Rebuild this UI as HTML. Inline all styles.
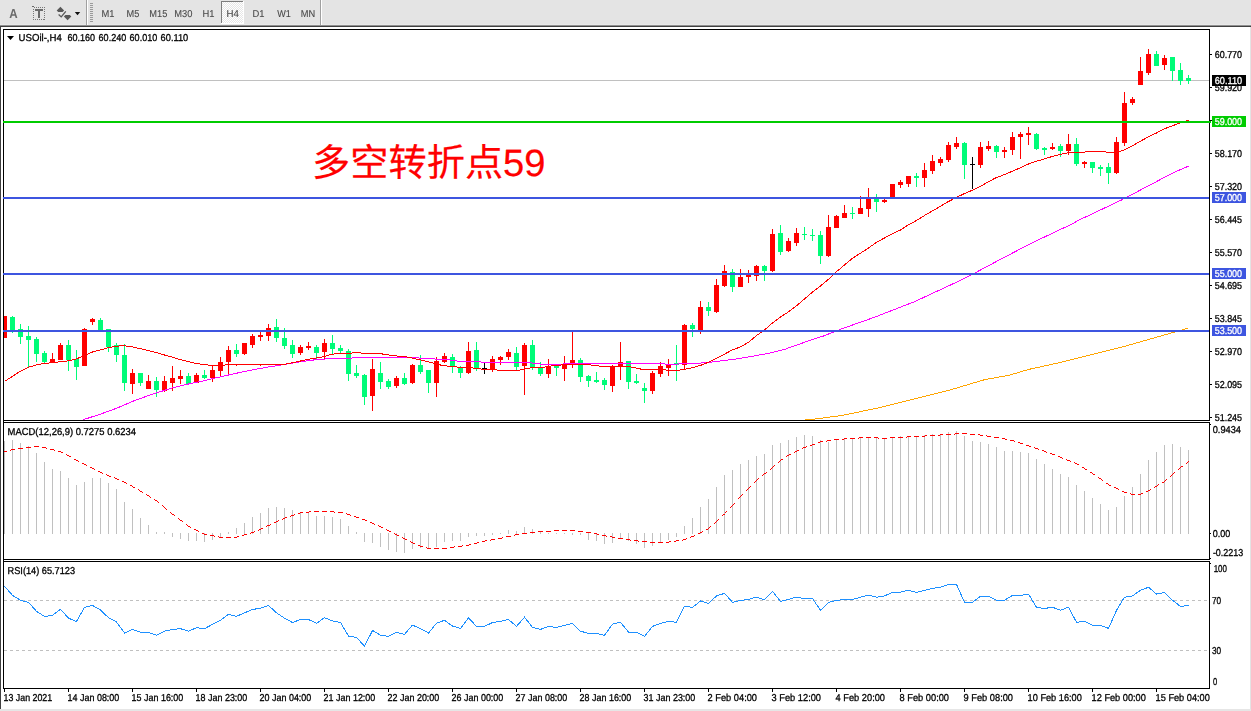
<!DOCTYPE html><html><head><meta charset="utf-8"><title>USOil H4</title>
<style>html,body{margin:0;padding:0;background:#fff;}body{width:1251px;height:711px;overflow:hidden;font-family:"Liberation Sans",sans-serif;}svg{display:block;font-family:"Liberation Sans",sans-serif;}text{filter:grayscale(1);text-rendering:geometricPrecision;}</style></head><body>
<svg width="1251" height="711" viewBox="0 0 1251 711" shape-rendering="crispEdges">
<rect x="0" y="0" width="1251" height="711" fill="#fff"/>
<rect x="0" y="0" width="1251" height="25" fill="#e4e4e4"/>
<rect x="0" y="24" width="1251" height="1" fill="#e9e9e9"/>
<rect x="0" y="25" width="1251" height="1" fill="#909090"/>
<rect x="0" y="26" width="1251" height="1" fill="#404040"/>
<rect x="0" y="27" width="1" height="684" fill="#404040"/>
<rect x="1250" y="27" width="1" height="684" fill="#e3e3e3"/>
<rect x="0" y="709" width="1251" height="2" fill="#e6e6e6"/>
<rect x="86" y="0" width="1" height="25" fill="#a0a0a0"/>
<rect x="87" y="0" width="1" height="25" fill="#ffffff"/>
<rect x="90" y="3" width="3" height="1" fill="#9a9a9a"/>
<rect x="90" y="5" width="3" height="1" fill="#9a9a9a"/>
<rect x="90" y="7" width="3" height="1" fill="#9a9a9a"/>
<rect x="90" y="9" width="3" height="1" fill="#9a9a9a"/>
<rect x="90" y="11" width="3" height="1" fill="#9a9a9a"/>
<rect x="90" y="13" width="3" height="1" fill="#9a9a9a"/>
<rect x="90" y="15" width="3" height="1" fill="#9a9a9a"/>
<rect x="90" y="17" width="3" height="1" fill="#9a9a9a"/>
<rect x="90" y="19" width="3" height="1" fill="#9a9a9a"/>
<rect x="90" y="21" width="3" height="1" fill="#9a9a9a"/>
<rect x="320" y="0" width="1" height="25" fill="#a0a0a0"/>
<rect x="321" y="0" width="1" height="25" fill="#ffffff"/>
<defs><pattern id="chk" x="0" y="0" width="2" height="2" patternUnits="userSpaceOnUse"><rect width="2" height="2" fill="#e6e6e6"/><rect width="1" height="1" fill="#fff"/><rect x="1" y="1" width="1" height="1" fill="#fff"/></pattern></defs>
<rect x="221" y="1" width="23" height="23" fill="url(#chk)"/>
<rect x="221" y="1" width="23" height="1" fill="#7d7d7d"/>
<rect x="221" y="1" width="1" height="23" fill="#7d7d7d"/>
<rect x="221" y="23" width="23" height="1" fill="#ffffff"/>
<rect x="243" y="1" width="1" height="23" fill="#ffffff"/>
<text x="101.4" y="17" fill="#484848" stroke="#484848" stroke-width="0.1" font-size="10.0" text-anchor="start" textLength="13.0" lengthAdjust="spacingAndGlyphs">M1</text>
<text x="126.6" y="17" fill="#484848" stroke="#484848" stroke-width="0.1" font-size="10.0" text-anchor="start" textLength="12.8" lengthAdjust="spacingAndGlyphs">M5</text>
<text x="149.3" y="17" fill="#484848" stroke="#484848" stroke-width="0.1" font-size="10.0" text-anchor="start" textLength="18.0" lengthAdjust="spacingAndGlyphs">M15</text>
<text x="174.3" y="17" fill="#484848" stroke="#484848" stroke-width="0.1" font-size="10.0" text-anchor="start" textLength="18.2" lengthAdjust="spacingAndGlyphs">M30</text>
<text x="202.5" y="17" fill="#484848" stroke="#484848" stroke-width="0.1" font-size="10.0" text-anchor="start" textLength="12.0" lengthAdjust="spacingAndGlyphs">H1</text>
<text x="226.5" y="17" fill="#484848" stroke="#484848" stroke-width="0.1" font-size="10.0" text-anchor="start" textLength="12.4" lengthAdjust="spacingAndGlyphs">H4</text>
<text x="252.5" y="17" fill="#484848" stroke="#484848" stroke-width="0.1" font-size="10.0" text-anchor="start" textLength="12.0" lengthAdjust="spacingAndGlyphs">D1</text>
<text x="277.2" y="17" fill="#484848" stroke="#484848" stroke-width="0.1" font-size="10.0" text-anchor="start" textLength="13.6" lengthAdjust="spacingAndGlyphs">W1</text>
<text x="300.8" y="17" fill="#484848" stroke="#484848" stroke-width="0.1" font-size="10.0" text-anchor="start" textLength="14.4" lengthAdjust="spacingAndGlyphs">MN</text>
<text x="9.3" y="18.2" fill="#6a6a6a" font-size="13" font-weight="bold" textLength="8.4" lengthAdjust="spacingAndGlyphs">A</text>
<rect x="33.5" y="7.5" width="11" height="12" fill="none" stroke="#777" stroke-width="1" stroke-dasharray="1,1"/>
<rect x="35" y="9" width="8" height="2" fill="#6a6a6a"/>
<rect x="38" y="9" width="2" height="9" fill="#6a6a6a"/>
<g shape-rendering="auto"><path d="M60.4 6.7 L64.1 10.5 L62.6 12 L58.2 12 L56.7 10.5 Z" fill="#585858"/><path d="M67.6 20.2 L71.3 16.5 L69.8 15 L65.4 15 L63.9 16.5 Z" fill="#585858"/><path d="M58.6 14.6 L61.2 16.9 L65.8 11.4" fill="none" stroke="#585858" stroke-width="1.3"/><path d="M74.8 12 L80.2 12 L77.5 15.2 Z" fill="#111"/></g>
<rect x="32" y="6" width="2" height="1" fill="#666"/>
<rect x="3" y="29" width="1207" height="1" fill="#000"/>
<rect x="3" y="29" width="1" height="660" fill="#000"/>
<rect x="1209" y="29" width="1" height="660" fill="#000"/>
<rect x="3" y="420" width="1206" height="1" fill="#000"/>
<rect x="3" y="422" width="1206" height="1" fill="#000"/>
<rect x="3" y="559" width="1206" height="1" fill="#000"/>
<rect x="3" y="561" width="1206" height="1" fill="#000"/>
<rect x="3" y="688" width="1207" height="1" fill="#000"/>
<rect x="4" y="80" width="1205" height="1" fill="#c0c0c0"/>
<rect x="4" y="316" width="1" height="22" fill="#ff0000"/>
<rect x="4" y="316" width="3" height="22" fill="#ff0000"/>
<rect x="12" y="316" width="1" height="17" fill="#00fc78"/>
<rect x="10" y="317" width="5" height="14" fill="#00fc78"/>
<rect x="20" y="324" width="1" height="20" fill="#00fc78"/>
<rect x="18" y="329" width="5" height="8" fill="#00fc78"/>
<rect x="28" y="326" width="1" height="42" fill="#00fc78"/>
<rect x="26" y="336" width="5" height="4" fill="#00fc78"/>
<rect x="36" y="337" width="1" height="25" fill="#00fc78"/>
<rect x="34" y="339" width="5" height="15" fill="#00fc78"/>
<rect x="44" y="351" width="1" height="12" fill="#00fc78"/>
<rect x="42" y="353" width="5" height="9" fill="#00fc78"/>
<rect x="52" y="353" width="1" height="9" fill="#ff0000"/>
<rect x="50" y="359" width="5" height="3" fill="#ff0000"/>
<rect x="60" y="343" width="1" height="17" fill="#ff0000"/>
<rect x="58" y="345" width="5" height="15" fill="#ff0000"/>
<rect x="68" y="340" width="1" height="31" fill="#00fc78"/>
<rect x="66" y="345" width="5" height="15" fill="#00fc78"/>
<rect x="76" y="350" width="1" height="30" fill="#00fc78"/>
<rect x="74" y="359" width="5" height="8" fill="#00fc78"/>
<rect x="84" y="328" width="1" height="38" fill="#ff0000"/>
<rect x="82" y="329" width="5" height="37" fill="#ff0000"/>
<rect x="92" y="318" width="1" height="7" fill="#ff0000"/>
<rect x="90" y="319" width="5" height="3" fill="#ff0000"/>
<rect x="100" y="318" width="1" height="12" fill="#00fc78"/>
<rect x="98" y="320" width="5" height="10" fill="#00fc78"/>
<rect x="108" y="329" width="1" height="23" fill="#00fc78"/>
<rect x="106" y="329" width="5" height="18" fill="#00fc78"/>
<rect x="116" y="343" width="1" height="19" fill="#00fc78"/>
<rect x="114" y="345" width="5" height="10" fill="#00fc78"/>
<rect x="124" y="344" width="1" height="47" fill="#00fc78"/>
<rect x="122" y="355" width="5" height="28" fill="#00fc78"/>
<rect x="132" y="369" width="1" height="25" fill="#ff0000"/>
<rect x="130" y="373" width="5" height="11" fill="#ff0000"/>
<rect x="140" y="373" width="1" height="13" fill="#00fc78"/>
<rect x="138" y="373" width="5" height="10" fill="#00fc78"/>
<rect x="148" y="375" width="1" height="14" fill="#ff0000"/>
<rect x="146" y="381" width="5" height="8" fill="#ff0000"/>
<rect x="156" y="377" width="1" height="20" fill="#00fc78"/>
<rect x="154" y="381" width="5" height="9" fill="#00fc78"/>
<rect x="164" y="376" width="1" height="16" fill="#ff0000"/>
<rect x="162" y="381" width="5" height="10" fill="#ff0000"/>
<rect x="172" y="366" width="1" height="25" fill="#ff0000"/>
<rect x="170" y="378" width="5" height="5" fill="#ff0000"/>
<rect x="180" y="370" width="1" height="14" fill="#ff0000"/>
<rect x="178" y="376" width="5" height="3" fill="#ff0000"/>
<rect x="188" y="373" width="1" height="11" fill="#00fc78"/>
<rect x="186" y="376" width="5" height="8" fill="#00fc78"/>
<rect x="196" y="373" width="1" height="10" fill="#ff0000"/>
<rect x="194" y="375" width="5" height="8" fill="#ff0000"/>
<rect x="204" y="370" width="1" height="9" fill="#00fc78"/>
<rect x="202" y="375" width="5" height="3" fill="#00fc78"/>
<rect x="212" y="366" width="1" height="16" fill="#ff0000"/>
<rect x="210" y="370" width="5" height="8" fill="#ff0000"/>
<rect x="220" y="357" width="1" height="19" fill="#ff0000"/>
<rect x="218" y="362" width="5" height="9" fill="#ff0000"/>
<rect x="228" y="346" width="1" height="29" fill="#ff0000"/>
<rect x="226" y="350" width="5" height="12" fill="#ff0000"/>
<rect x="236" y="344" width="1" height="13" fill="#00fc78"/>
<rect x="234" y="350" width="5" height="4" fill="#00fc78"/>
<rect x="244" y="343" width="1" height="12" fill="#ff0000"/>
<rect x="242" y="343" width="5" height="11" fill="#ff0000"/>
<rect x="252" y="334" width="1" height="14" fill="#ff0000"/>
<rect x="250" y="336" width="5" height="9" fill="#ff0000"/>
<rect x="260" y="332" width="1" height="9" fill="#ff0000"/>
<rect x="258" y="335" width="5" height="2" fill="#ff0000"/>
<rect x="268" y="324" width="1" height="17" fill="#ff0000"/>
<rect x="266" y="328" width="5" height="8" fill="#ff0000"/>
<rect x="276" y="319" width="1" height="23" fill="#00fc78"/>
<rect x="274" y="327" width="5" height="11" fill="#00fc78"/>
<rect x="284" y="328" width="1" height="21" fill="#00fc78"/>
<rect x="282" y="338" width="5" height="8" fill="#00fc78"/>
<rect x="292" y="340" width="1" height="18" fill="#00fc78"/>
<rect x="290" y="345" width="5" height="9" fill="#00fc78"/>
<rect x="300" y="345" width="1" height="10" fill="#ff0000"/>
<rect x="298" y="347" width="5" height="6" fill="#ff0000"/>
<rect x="308" y="342" width="1" height="8" fill="#ff0000"/>
<rect x="306" y="346" width="5" height="2" fill="#ff0000"/>
<rect x="316" y="345" width="1" height="15" fill="#00fc78"/>
<rect x="314" y="347" width="5" height="6" fill="#00fc78"/>
<rect x="324" y="339" width="1" height="20" fill="#ff0000"/>
<rect x="322" y="343" width="5" height="9" fill="#ff0000"/>
<rect x="332" y="335" width="1" height="19" fill="#00fc78"/>
<rect x="330" y="343" width="5" height="6" fill="#00fc78"/>
<rect x="340" y="345" width="1" height="8" fill="#00fc78"/>
<rect x="338" y="348" width="5" height="3" fill="#00fc78"/>
<rect x="348" y="349" width="1" height="32" fill="#00fc78"/>
<rect x="346" y="351" width="5" height="23" fill="#00fc78"/>
<rect x="356" y="365" width="1" height="13" fill="#00fc78"/>
<rect x="354" y="373" width="5" height="3" fill="#00fc78"/>
<rect x="364" y="374" width="1" height="31" fill="#00fc78"/>
<rect x="362" y="375" width="5" height="22" fill="#00fc78"/>
<rect x="372" y="359" width="1" height="52" fill="#ff0000"/>
<rect x="370" y="369" width="5" height="27" fill="#ff0000"/>
<rect x="380" y="362" width="1" height="27" fill="#00fc78"/>
<rect x="378" y="373" width="5" height="9" fill="#00fc78"/>
<rect x="388" y="379" width="1" height="10" fill="#00fc78"/>
<rect x="386" y="381" width="5" height="6" fill="#00fc78"/>
<rect x="396" y="376" width="1" height="12" fill="#ff0000"/>
<rect x="394" y="378" width="5" height="8" fill="#ff0000"/>
<rect x="404" y="373" width="1" height="12" fill="#00fc78"/>
<rect x="402" y="378" width="5" height="6" fill="#00fc78"/>
<rect x="412" y="364" width="1" height="20" fill="#ff0000"/>
<rect x="410" y="365" width="5" height="18" fill="#ff0000"/>
<rect x="420" y="355" width="1" height="19" fill="#00fc78"/>
<rect x="418" y="365" width="5" height="7" fill="#00fc78"/>
<rect x="428" y="370" width="1" height="23" fill="#00fc78"/>
<rect x="426" y="370" width="5" height="13" fill="#00fc78"/>
<rect x="436" y="357" width="1" height="40" fill="#ff0000"/>
<rect x="434" y="361" width="5" height="22" fill="#ff0000"/>
<rect x="444" y="353" width="1" height="10" fill="#ff0000"/>
<rect x="442" y="356" width="5" height="6" fill="#ff0000"/>
<rect x="452" y="354" width="1" height="19" fill="#00fc78"/>
<rect x="450" y="357" width="5" height="10" fill="#00fc78"/>
<rect x="460" y="366" width="1" height="12" fill="#00fc78"/>
<rect x="458" y="368" width="5" height="5" fill="#00fc78"/>
<rect x="468" y="342" width="1" height="32" fill="#ff0000"/>
<rect x="466" y="351" width="5" height="22" fill="#ff0000"/>
<rect x="476" y="342" width="1" height="29" fill="#00fc78"/>
<rect x="474" y="350" width="5" height="18" fill="#00fc78"/>
<rect x="484" y="363" width="1" height="11" fill="#000"/>
<rect x="482" y="368" width="5" height="1" fill="#000"/>
<rect x="492" y="356" width="1" height="16" fill="#ff0000"/>
<rect x="490" y="359" width="5" height="11" fill="#ff0000"/>
<rect x="500" y="356" width="1" height="9" fill="#ff0000"/>
<rect x="498" y="357" width="5" height="3" fill="#ff0000"/>
<rect x="508" y="349" width="1" height="11" fill="#ff0000"/>
<rect x="506" y="352" width="5" height="5" fill="#ff0000"/>
<rect x="516" y="347" width="1" height="23" fill="#00fc78"/>
<rect x="514" y="353" width="5" height="14" fill="#00fc78"/>
<rect x="524" y="343" width="1" height="52" fill="#ff0000"/>
<rect x="522" y="345" width="5" height="21" fill="#ff0000"/>
<rect x="532" y="340" width="1" height="30" fill="#00fc78"/>
<rect x="530" y="345" width="5" height="22" fill="#00fc78"/>
<rect x="540" y="362" width="1" height="14" fill="#00fc78"/>
<rect x="538" y="367" width="5" height="7" fill="#00fc78"/>
<rect x="548" y="359" width="1" height="19" fill="#ff0000"/>
<rect x="546" y="366" width="5" height="8" fill="#ff0000"/>
<rect x="556" y="365" width="1" height="11" fill="#00fc78"/>
<rect x="554" y="366" width="5" height="2" fill="#00fc78"/>
<rect x="564" y="356" width="1" height="25" fill="#ff0000"/>
<rect x="562" y="365" width="5" height="4" fill="#ff0000"/>
<rect x="572" y="332" width="1" height="36" fill="#ff0000"/>
<rect x="570" y="360" width="5" height="4" fill="#ff0000"/>
<rect x="580" y="358" width="1" height="24" fill="#00fc78"/>
<rect x="578" y="360" width="5" height="17" fill="#00fc78"/>
<rect x="588" y="375" width="1" height="12" fill="#00fc78"/>
<rect x="586" y="376" width="5" height="5" fill="#00fc78"/>
<rect x="596" y="372" width="1" height="11" fill="#00fc78"/>
<rect x="594" y="380" width="5" height="2" fill="#00fc78"/>
<rect x="604" y="378" width="1" height="12" fill="#00fc78"/>
<rect x="602" y="380" width="5" height="5" fill="#00fc78"/>
<rect x="612" y="365" width="1" height="27" fill="#ff0000"/>
<rect x="610" y="366" width="5" height="20" fill="#ff0000"/>
<rect x="620" y="342" width="1" height="38" fill="#ff0000"/>
<rect x="618" y="362" width="5" height="4" fill="#ff0000"/>
<rect x="628" y="361" width="1" height="28" fill="#00fc78"/>
<rect x="626" y="361" width="5" height="21" fill="#00fc78"/>
<rect x="636" y="374" width="1" height="10" fill="#00fc78"/>
<rect x="634" y="381" width="5" height="2" fill="#00fc78"/>
<rect x="644" y="383" width="1" height="20" fill="#00fc78"/>
<rect x="642" y="388" width="5" height="3" fill="#00fc78"/>
<rect x="652" y="371" width="1" height="23" fill="#ff0000"/>
<rect x="650" y="373" width="5" height="18" fill="#ff0000"/>
<rect x="660" y="362" width="1" height="15" fill="#ff0000"/>
<rect x="658" y="366" width="5" height="8" fill="#ff0000"/>
<rect x="668" y="359" width="1" height="17" fill="#ff0000"/>
<rect x="666" y="364" width="5" height="4" fill="#ff0000"/>
<rect x="676" y="345" width="1" height="36" fill="#00fc78"/>
<rect x="674" y="363" width="5" height="2" fill="#00fc78"/>
<rect x="684" y="324" width="1" height="46" fill="#ff0000"/>
<rect x="682" y="325" width="5" height="40" fill="#ff0000"/>
<rect x="692" y="323" width="1" height="14" fill="#00fc78"/>
<rect x="690" y="325" width="5" height="4" fill="#00fc78"/>
<rect x="700" y="301" width="1" height="33" fill="#ff0000"/>
<rect x="698" y="307" width="5" height="24" fill="#ff0000"/>
<rect x="708" y="302" width="1" height="14" fill="#00fc78"/>
<rect x="706" y="307" width="5" height="4" fill="#00fc78"/>
<rect x="716" y="279" width="1" height="34" fill="#ff0000"/>
<rect x="714" y="285" width="5" height="27" fill="#ff0000"/>
<rect x="724" y="265" width="1" height="22" fill="#ff0000"/>
<rect x="722" y="271" width="5" height="15" fill="#ff0000"/>
<rect x="732" y="269" width="1" height="23" fill="#00fc78"/>
<rect x="730" y="272" width="5" height="15" fill="#00fc78"/>
<rect x="740" y="269" width="1" height="18" fill="#ff0000"/>
<rect x="738" y="277" width="5" height="10" fill="#ff0000"/>
<rect x="748" y="270" width="1" height="13" fill="#ff0000"/>
<rect x="746" y="275" width="5" height="2" fill="#ff0000"/>
<rect x="756" y="265" width="1" height="16" fill="#ff0000"/>
<rect x="754" y="266" width="5" height="10" fill="#ff0000"/>
<rect x="764" y="265" width="1" height="16" fill="#00fc78"/>
<rect x="762" y="266" width="5" height="5" fill="#00fc78"/>
<rect x="772" y="229" width="1" height="43" fill="#ff0000"/>
<rect x="770" y="234" width="5" height="37" fill="#ff0000"/>
<rect x="780" y="225" width="1" height="30" fill="#00fc78"/>
<rect x="778" y="233" width="5" height="19" fill="#00fc78"/>
<rect x="788" y="238" width="1" height="14" fill="#ff0000"/>
<rect x="786" y="241" width="5" height="10" fill="#ff0000"/>
<rect x="796" y="228" width="1" height="18" fill="#ff0000"/>
<rect x="794" y="233" width="5" height="10" fill="#ff0000"/>
<rect x="804" y="227" width="1" height="13" fill="#00fc78"/>
<rect x="802" y="234" width="5" height="1" fill="#00fc78"/>
<rect x="812" y="229" width="1" height="12" fill="#00fc78"/>
<rect x="810" y="235" width="5" height="1" fill="#00fc78"/>
<rect x="820" y="231" width="1" height="33" fill="#00fc78"/>
<rect x="818" y="235" width="5" height="21" fill="#00fc78"/>
<rect x="828" y="215" width="1" height="42" fill="#ff0000"/>
<rect x="826" y="227" width="5" height="29" fill="#ff0000"/>
<rect x="836" y="215" width="1" height="13" fill="#ff0000"/>
<rect x="834" y="216" width="5" height="12" fill="#ff0000"/>
<rect x="844" y="205" width="1" height="13" fill="#ff0000"/>
<rect x="842" y="213" width="5" height="5" fill="#ff0000"/>
<rect x="852" y="207" width="1" height="12" fill="#00fc78"/>
<rect x="850" y="213" width="5" height="1" fill="#00fc78"/>
<rect x="860" y="196" width="1" height="18" fill="#ff0000"/>
<rect x="858" y="208" width="5" height="6" fill="#ff0000"/>
<rect x="868" y="188" width="1" height="29" fill="#ff0000"/>
<rect x="866" y="199" width="5" height="10" fill="#ff0000"/>
<rect x="876" y="194" width="1" height="18" fill="#00fc78"/>
<rect x="874" y="198" width="5" height="4" fill="#00fc78"/>
<rect x="884" y="199" width="1" height="4" fill="#ff0000"/>
<rect x="882" y="200" width="5" height="2" fill="#ff0000"/>
<rect x="892" y="184" width="1" height="14" fill="#ff0000"/>
<rect x="890" y="184" width="5" height="14" fill="#ff0000"/>
<rect x="900" y="180" width="1" height="8" fill="#ff0000"/>
<rect x="898" y="182" width="5" height="3" fill="#ff0000"/>
<rect x="908" y="176" width="1" height="11" fill="#ff0000"/>
<rect x="906" y="176" width="5" height="8" fill="#ff0000"/>
<rect x="916" y="173" width="1" height="14" fill="#00fc78"/>
<rect x="914" y="176" width="5" height="2" fill="#00fc78"/>
<rect x="924" y="163" width="1" height="24" fill="#ff0000"/>
<rect x="922" y="170" width="5" height="8" fill="#ff0000"/>
<rect x="932" y="155" width="1" height="19" fill="#ff0000"/>
<rect x="930" y="161" width="5" height="10" fill="#ff0000"/>
<rect x="940" y="157" width="1" height="9" fill="#ff0000"/>
<rect x="938" y="159" width="5" height="4" fill="#ff0000"/>
<rect x="948" y="142" width="1" height="20" fill="#ff0000"/>
<rect x="946" y="145" width="5" height="15" fill="#ff0000"/>
<rect x="956" y="137" width="1" height="12" fill="#ff0000"/>
<rect x="954" y="143" width="5" height="4" fill="#ff0000"/>
<rect x="964" y="142" width="1" height="37" fill="#00fc78"/>
<rect x="962" y="143" width="5" height="22" fill="#00fc78"/>
<rect x="972" y="157" width="1" height="32" fill="#000"/>
<rect x="970" y="164" width="5" height="1" fill="#000"/>
<rect x="980" y="142" width="1" height="26" fill="#ff0000"/>
<rect x="978" y="147" width="5" height="18" fill="#ff0000"/>
<rect x="988" y="141" width="1" height="10" fill="#ff0000"/>
<rect x="986" y="146" width="5" height="3" fill="#ff0000"/>
<rect x="996" y="145" width="1" height="13" fill="#00fc78"/>
<rect x="994" y="146" width="5" height="6" fill="#00fc78"/>
<rect x="1004" y="147" width="1" height="11" fill="#ff0000"/>
<rect x="1002" y="150" width="5" height="2" fill="#ff0000"/>
<rect x="1012" y="132" width="1" height="23" fill="#ff0000"/>
<rect x="1010" y="137" width="5" height="13" fill="#ff0000"/>
<rect x="1020" y="132" width="1" height="27" fill="#ff0000"/>
<rect x="1018" y="134" width="5" height="3" fill="#ff0000"/>
<rect x="1028" y="127" width="1" height="18" fill="#ff0000"/>
<rect x="1026" y="133" width="5" height="2" fill="#ff0000"/>
<rect x="1036" y="133" width="1" height="17" fill="#00fc78"/>
<rect x="1034" y="134" width="5" height="15" fill="#00fc78"/>
<rect x="1044" y="147" width="1" height="8" fill="#00fc78"/>
<rect x="1042" y="148" width="5" height="2" fill="#00fc78"/>
<rect x="1052" y="143" width="1" height="7" fill="#ff0000"/>
<rect x="1050" y="147" width="5" height="2" fill="#ff0000"/>
<rect x="1060" y="144" width="1" height="13" fill="#00fc78"/>
<rect x="1058" y="146" width="5" height="5" fill="#00fc78"/>
<rect x="1068" y="134" width="1" height="21" fill="#ff0000"/>
<rect x="1066" y="144" width="5" height="7" fill="#ff0000"/>
<rect x="1076" y="138" width="1" height="28" fill="#00fc78"/>
<rect x="1074" y="144" width="5" height="20" fill="#00fc78"/>
<rect x="1084" y="161" width="1" height="7" fill="#ff0000"/>
<rect x="1082" y="162" width="5" height="2" fill="#ff0000"/>
<rect x="1092" y="162" width="1" height="11" fill="#00fc78"/>
<rect x="1090" y="162" width="5" height="6" fill="#00fc78"/>
<rect x="1100" y="165" width="1" height="11" fill="#00fc78"/>
<rect x="1098" y="167" width="5" height="2" fill="#00fc78"/>
<rect x="1108" y="163" width="1" height="21" fill="#00fc78"/>
<rect x="1106" y="167" width="5" height="6" fill="#00fc78"/>
<rect x="1116" y="137" width="1" height="37" fill="#ff0000"/>
<rect x="1114" y="142" width="5" height="31" fill="#ff0000"/>
<rect x="1124" y="92" width="1" height="54" fill="#ff0000"/>
<rect x="1122" y="103" width="5" height="40" fill="#ff0000"/>
<rect x="1132" y="97" width="1" height="8" fill="#ff0000"/>
<rect x="1130" y="99" width="5" height="4" fill="#ff0000"/>
<rect x="1140" y="57" width="1" height="28" fill="#ff0000"/>
<rect x="1138" y="71" width="5" height="14" fill="#ff0000"/>
<rect x="1148" y="49" width="1" height="26" fill="#ff0000"/>
<rect x="1146" y="54" width="5" height="19" fill="#ff0000"/>
<rect x="1156" y="51" width="1" height="15" fill="#00fc78"/>
<rect x="1154" y="54" width="5" height="12" fill="#00fc78"/>
<rect x="1164" y="55" width="1" height="15" fill="#ff0000"/>
<rect x="1162" y="58" width="5" height="7" fill="#ff0000"/>
<rect x="1172" y="57" width="1" height="24" fill="#00fc78"/>
<rect x="1170" y="57" width="5" height="14" fill="#00fc78"/>
<rect x="1180" y="63" width="1" height="22" fill="#00fc78"/>
<rect x="1178" y="70" width="5" height="11" fill="#00fc78"/>
<rect x="1188" y="75" width="1" height="9" fill="#00fc78"/>
<rect x="1186" y="78" width="5" height="3" fill="#00fc78"/>
<polyline points="805.5,420.0 809.0,419.7 840.9,415.7 877.8,408.0 914.7,398.9 951.6,389.5 985.2,379.5 1008.7,375.4 1028.8,369.4 1059.0,362.7 1092.6,354.3 1126.2,345.9 1153.0,338.2 1173.2,332.5 1188.3,328.1" fill="none" stroke="#ffa500" stroke-width="1"/>
<polyline points="83.5,420.0 84.5,419.3 100.5,414.1 116.5,408.3 132.5,401.4 148.5,395.5 156.5,392.9 172.5,387.8 188.5,384.0 204.5,380.6 220.5,376.8 236.5,373.2 252.5,369.9 268.5,367.0 284.5,364.5 300.5,361.8 316.5,359.6 328.5,358.8 335.5,358.5 351.5,358.4 352.5,357.5 416.5,357.5 420.5,358.2 436.5,359.1 452.5,360.2 456.5,360.6 457.5,361.5 480.5,361.6 481.5,362.5 530.5,362.8 540.5,364.1 610.5,363.8 664.5,363.8 666.5,364.6 690.5,363.4 704.5,362.9 720.5,360.9 736.5,358.9 752.5,356.3 768.5,353.3 784.5,349.4 800.5,343.7 810.5,340.2 824.1,335.8 840.9,329.1 874.4,317.3 890.5,311.0 914.7,301.6 951.6,284.5 973.5,273.7 998.6,260.3 1032.2,242.8 1059.0,230.1 1070.5,224.8 1079.2,220.0 1121.5,200.0 1128.5,196.3 1140.5,190.0 1156.5,181.6 1172.5,173.1 1188.5,166.1" fill="none" stroke="#ff00ff" stroke-width="1"/>
<polyline points="4.5,381.4 12.5,376.3 20.5,371.2 28.5,367.3 36.5,364.8 44.5,363.5 52.5,362.7 60.5,361.7 68.5,360.9 76.5,358.9 84.5,355.3 92.5,352.0 100.5,349.9 108.5,347.6 116.5,346.1 124.5,345.8 132.5,346.9 140.5,348.7 148.5,350.7 156.5,352.7 164.5,355.0 172.5,357.1 180.5,359.7 188.5,361.7 196.5,363.5 204.5,364.8 212.5,365.3 220.5,365.3 228.5,364.8 236.5,365.0 244.5,364.8 252.5,364.8 260.5,365.0 268.5,364.8 276.5,364.5 284.5,364.3 292.5,362.8 300.5,361.0 308.5,359.3 316.5,358.0 324.5,356.5 330.5,354.6 336.5,353.5 351.5,353.4 352.5,352.5 360.5,352.5 361.5,353.5 372.5,353.7 380.5,353.7 388.5,354.9 396.5,356.0 404.5,356.5 410.5,357.7 420.5,359.9 430.5,362.4 440.5,365.0 450.5,366.5 456.5,366.6 457.5,367.5 472.5,367.6 473.5,368.5 480.5,368.6 481.5,369.5 496.5,369.6 497.5,370.5 517.5,370.5 524.5,368.9 532.5,367.5 545.5,367.0 555.5,365.3 570.5,364.5 580.5,364.1 590.5,365.0 600.5,366.2 630.5,366.8 640.5,369.0 660.5,369.0 668.5,370.5 676.5,370.5 684.5,369.3 692.5,367.6 700.5,365.4 708.5,362.2 716.5,358.4 724.5,354.1 732.5,349.9 740.5,346.9 748.5,342.3 756.5,335.6 764.5,330.0 772.5,322.9 780.5,317.0 788.5,311.9 796.5,305.8 804.5,299.0 812.5,292.0 820.5,286.0 828.5,279.3 836.5,271.7 844.5,265.0 852.5,258.2 860.5,253.2 868.5,248.1 876.5,242.2 884.5,238.0 892.5,233.6 900.5,230.0 908.5,224.8 916.5,220.5 924.5,215.5 932.5,210.9 940.5,206.2 948.5,201.5 956.5,197.4 964.5,193.5 972.5,190.2 980.5,186.3 988.5,181.7 996.5,177.5 1004.5,174.6 1012.5,171.1 1020.5,167.7 1028.5,164.0 1036.5,161.2 1044.5,158.9 1052.5,156.4 1060.5,154.3 1068.5,152.6 1104.5,151.3 1106.5,152.5 1116.5,152.5 1122.5,150.6 1132.5,145.7 1140.5,141.1 1148.5,136.8 1156.5,133.0 1164.5,128.8 1172.5,125.7 1180.5,122.9 1188.5,120.4" fill="none" stroke="#ff0000" stroke-width="1"/>
<rect x="3" y="121" width="1208" height="2" fill="#00cc00"/>
<rect x="3" y="197" width="1206" height="2" fill="#3d55e0"/>
<rect x="3" y="273" width="1206" height="2" fill="#3d55e0"/>
<rect x="3" y="330" width="1206" height="2" fill="#3d55e0"/>
<rect x="1210" y="54" width="2" height="1" fill="#000"/>
<text x="1214.7" y="58" fill="#000" stroke="#000" stroke-width="0.3" font-size="10.0" text-anchor="start" textLength="27.4" lengthAdjust="spacingAndGlyphs">60.770</text>
<rect x="1210" y="87" width="2" height="1" fill="#000"/>
<text x="1214.7" y="91" fill="#000" stroke="#000" stroke-width="0.3" font-size="10.0" text-anchor="start" textLength="27.4" lengthAdjust="spacingAndGlyphs">59.920</text>
<rect x="1210" y="120" width="2" height="1" fill="#000"/>
<rect x="1210" y="153" width="2" height="1" fill="#000"/>
<text x="1214.7" y="157" fill="#000" stroke="#000" stroke-width="0.3" font-size="10.0" text-anchor="start" textLength="27.4" lengthAdjust="spacingAndGlyphs">58.170</text>
<rect x="1210" y="186" width="2" height="1" fill="#000"/>
<text x="1214.7" y="190" fill="#000" stroke="#000" stroke-width="0.3" font-size="10.0" text-anchor="start" textLength="27.4" lengthAdjust="spacingAndGlyphs">57.320</text>
<rect x="1210" y="219" width="2" height="1" fill="#000"/>
<text x="1214.7" y="223" fill="#000" stroke="#000" stroke-width="0.3" font-size="10.0" text-anchor="start" textLength="27.4" lengthAdjust="spacingAndGlyphs">56.445</text>
<rect x="1210" y="252" width="2" height="1" fill="#000"/>
<text x="1214.7" y="256" fill="#000" stroke="#000" stroke-width="0.3" font-size="10.0" text-anchor="start" textLength="27.4" lengthAdjust="spacingAndGlyphs">55.570</text>
<rect x="1210" y="285" width="2" height="1" fill="#000"/>
<text x="1214.7" y="289" fill="#000" stroke="#000" stroke-width="0.3" font-size="10.0" text-anchor="start" textLength="27.4" lengthAdjust="spacingAndGlyphs">54.695</text>
<rect x="1210" y="318" width="2" height="1" fill="#000"/>
<text x="1214.7" y="322" fill="#000" stroke="#000" stroke-width="0.3" font-size="10.0" text-anchor="start" textLength="27.4" lengthAdjust="spacingAndGlyphs">53.845</text>
<rect x="1210" y="351" width="2" height="1" fill="#000"/>
<text x="1214.7" y="355" fill="#000" stroke="#000" stroke-width="0.3" font-size="10.0" text-anchor="start" textLength="27.4" lengthAdjust="spacingAndGlyphs">52.970</text>
<rect x="1210" y="384" width="2" height="1" fill="#000"/>
<text x="1214.7" y="388" fill="#000" stroke="#000" stroke-width="0.3" font-size="10.0" text-anchor="start" textLength="27.4" lengthAdjust="spacingAndGlyphs">52.095</text>
<rect x="1210" y="417" width="2" height="1" fill="#000"/>
<text x="1214.7" y="421" fill="#000" stroke="#000" stroke-width="0.3" font-size="10.0" text-anchor="start" textLength="27.4" lengthAdjust="spacingAndGlyphs">51.245</text>
<rect x="1212" y="75" width="34" height="11" fill="#000"/>
<text x="1214.7" y="84" fill="#fff" stroke="#fff" stroke-width="0.3" font-size="10.0" text-anchor="start" textLength="27.4" lengthAdjust="spacingAndGlyphs">60.110</text>
<rect x="1212" y="116" width="34" height="11" fill="#00cc00"/>
<text x="1214.7" y="125" fill="#fff" stroke="#fff" stroke-width="0.3" font-size="10.0" text-anchor="start" textLength="27.4" lengthAdjust="spacingAndGlyphs">59.000</text>
<rect x="1212" y="192" width="34" height="11" fill="#3d55e0"/>
<text x="1214.7" y="201" fill="#fff" stroke="#fff" stroke-width="0.3" font-size="10.0" text-anchor="start" textLength="27.4" lengthAdjust="spacingAndGlyphs">57.000</text>
<rect x="1212" y="268" width="34" height="11" fill="#3d55e0"/>
<text x="1214.7" y="277" fill="#fff" stroke="#fff" stroke-width="0.3" font-size="10.0" text-anchor="start" textLength="27.4" lengthAdjust="spacingAndGlyphs">55.000</text>
<rect x="1212" y="325" width="34" height="11" fill="#3d55e0"/>
<text x="1214.7" y="334" fill="#fff" stroke="#fff" stroke-width="0.3" font-size="10.0" text-anchor="start" textLength="27.4" lengthAdjust="spacingAndGlyphs">53.500</text>
<path d="M7 36 L14 36 L10.5 40 Z" fill="#000" shape-rendering="auto"/>
<text x="18.6" y="41" fill="#000" stroke="#000" stroke-width="0.3" font-size="10.0" text-anchor="start" textLength="43.2" lengthAdjust="spacingAndGlyphs">USOil-,H4</text>
<text x="67.5" y="41" fill="#000" stroke="#000" stroke-width="0.3" font-size="10.0" text-anchor="start" textLength="27.6" lengthAdjust="spacingAndGlyphs">60.160</text>
<text x="98.6" y="41" fill="#000" stroke="#000" stroke-width="0.3" font-size="10.0" text-anchor="start" textLength="27.6" lengthAdjust="spacingAndGlyphs">60.240</text>
<text x="129.6" y="41" fill="#000" stroke="#000" stroke-width="0.3" font-size="10.0" text-anchor="start" textLength="27.6" lengthAdjust="spacingAndGlyphs">60.010</text>
<text x="160.6" y="41" fill="#000" stroke="#000" stroke-width="0.3" font-size="10.0" text-anchor="start" textLength="27.6" lengthAdjust="spacingAndGlyphs">60.110</text>
<rect x="4" y="441" width="1" height="93" fill="#c0c0c0"/>
<rect x="12" y="440" width="1" height="94" fill="#c0c0c0"/>
<rect x="20" y="443" width="1" height="91" fill="#c0c0c0"/>
<rect x="28" y="446" width="1" height="88" fill="#c0c0c0"/>
<rect x="36" y="453" width="1" height="81" fill="#c0c0c0"/>
<rect x="44" y="462" width="1" height="72" fill="#c0c0c0"/>
<rect x="52" y="469" width="1" height="65" fill="#c0c0c0"/>
<rect x="60" y="471" width="1" height="63" fill="#c0c0c0"/>
<rect x="68" y="478" width="1" height="56" fill="#c0c0c0"/>
<rect x="76" y="485" width="1" height="49" fill="#c0c0c0"/>
<rect x="84" y="482" width="1" height="52" fill="#c0c0c0"/>
<rect x="92" y="478" width="1" height="56" fill="#c0c0c0"/>
<rect x="100" y="478" width="1" height="56" fill="#c0c0c0"/>
<rect x="108" y="483" width="1" height="51" fill="#c0c0c0"/>
<rect x="116" y="489" width="1" height="45" fill="#c0c0c0"/>
<rect x="124" y="502" width="1" height="32" fill="#c0c0c0"/>
<rect x="132" y="509" width="1" height="25" fill="#c0c0c0"/>
<rect x="140" y="518" width="1" height="16" fill="#c0c0c0"/>
<rect x="148" y="525" width="1" height="9" fill="#c0c0c0"/>
<rect x="156" y="532" width="1" height="2" fill="#c0c0c0"/>
<rect x="164" y="532" width="1" height="2" fill="#c0c0c0"/>
<rect x="172" y="533" width="1" height="4" fill="#c0c0c0"/>
<rect x="180" y="533" width="1" height="6" fill="#c0c0c0"/>
<rect x="188" y="533" width="1" height="8" fill="#c0c0c0"/>
<rect x="196" y="533" width="1" height="8" fill="#c0c0c0"/>
<rect x="204" y="533" width="1" height="9" fill="#c0c0c0"/>
<rect x="212" y="533" width="1" height="7" fill="#c0c0c0"/>
<rect x="220" y="533" width="1" height="4" fill="#c0c0c0"/>
<rect x="228" y="532" width="1" height="2" fill="#c0c0c0"/>
<rect x="236" y="528" width="1" height="6" fill="#c0c0c0"/>
<rect x="244" y="523" width="1" height="11" fill="#c0c0c0"/>
<rect x="252" y="517" width="1" height="17" fill="#c0c0c0"/>
<rect x="260" y="513" width="1" height="21" fill="#c0c0c0"/>
<rect x="268" y="508" width="1" height="26" fill="#c0c0c0"/>
<rect x="276" y="507" width="1" height="27" fill="#c0c0c0"/>
<rect x="284" y="508" width="1" height="26" fill="#c0c0c0"/>
<rect x="292" y="510" width="1" height="24" fill="#c0c0c0"/>
<rect x="300" y="512" width="1" height="22" fill="#c0c0c0"/>
<rect x="308" y="513" width="1" height="21" fill="#c0c0c0"/>
<rect x="316" y="516" width="1" height="18" fill="#c0c0c0"/>
<rect x="324" y="516" width="1" height="18" fill="#c0c0c0"/>
<rect x="332" y="517" width="1" height="17" fill="#c0c0c0"/>
<rect x="340" y="519" width="1" height="15" fill="#c0c0c0"/>
<rect x="348" y="526" width="1" height="8" fill="#c0c0c0"/>
<rect x="356" y="532" width="1" height="2" fill="#c0c0c0"/>
<rect x="364" y="533" width="1" height="9" fill="#c0c0c0"/>
<rect x="372" y="533" width="1" height="10" fill="#c0c0c0"/>
<rect x="380" y="533" width="1" height="14" fill="#c0c0c0"/>
<rect x="388" y="533" width="1" height="17" fill="#c0c0c0"/>
<rect x="396" y="533" width="1" height="19" fill="#c0c0c0"/>
<rect x="404" y="533" width="1" height="20" fill="#c0c0c0"/>
<rect x="412" y="533" width="1" height="16" fill="#c0c0c0"/>
<rect x="420" y="533" width="1" height="15" fill="#c0c0c0"/>
<rect x="428" y="533" width="1" height="16" fill="#c0c0c0"/>
<rect x="436" y="533" width="1" height="14" fill="#c0c0c0"/>
<rect x="444" y="533" width="1" height="9" fill="#c0c0c0"/>
<rect x="452" y="533" width="1" height="8" fill="#c0c0c0"/>
<rect x="460" y="533" width="1" height="8" fill="#c0c0c0"/>
<rect x="468" y="533" width="1" height="4" fill="#c0c0c0"/>
<rect x="476" y="533" width="1" height="3" fill="#c0c0c0"/>
<rect x="484" y="533" width="1" height="3" fill="#c0c0c0"/>
<rect x="492" y="533" width="1" height="2" fill="#c0c0c0"/>
<rect x="500" y="533" width="1" height="1" fill="#c0c0c0"/>
<rect x="508" y="530" width="1" height="4" fill="#c0c0c0"/>
<rect x="516" y="531" width="1" height="3" fill="#c0c0c0"/>
<rect x="524" y="527" width="1" height="7" fill="#c0c0c0"/>
<rect x="532" y="529" width="1" height="5" fill="#c0c0c0"/>
<rect x="540" y="531" width="1" height="3" fill="#c0c0c0"/>
<rect x="548" y="533" width="1" height="1" fill="#c0c0c0"/>
<rect x="556" y="533" width="1" height="1" fill="#c0c0c0"/>
<rect x="564" y="533" width="1" height="1" fill="#c0c0c0"/>
<rect x="572" y="533" width="1" height="2" fill="#c0c0c0"/>
<rect x="580" y="533" width="1" height="2" fill="#c0c0c0"/>
<rect x="588" y="533" width="1" height="7" fill="#c0c0c0"/>
<rect x="596" y="533" width="1" height="8" fill="#c0c0c0"/>
<rect x="604" y="533" width="1" height="11" fill="#c0c0c0"/>
<rect x="612" y="533" width="1" height="10" fill="#c0c0c0"/>
<rect x="620" y="533" width="1" height="6" fill="#c0c0c0"/>
<rect x="628" y="533" width="1" height="8" fill="#c0c0c0"/>
<rect x="636" y="533" width="1" height="11" fill="#c0c0c0"/>
<rect x="644" y="533" width="1" height="15" fill="#c0c0c0"/>
<rect x="652" y="533" width="1" height="13" fill="#c0c0c0"/>
<rect x="660" y="533" width="1" height="10" fill="#c0c0c0"/>
<rect x="668" y="533" width="1" height="7" fill="#c0c0c0"/>
<rect x="676" y="533" width="1" height="4" fill="#c0c0c0"/>
<rect x="684" y="526" width="1" height="8" fill="#c0c0c0"/>
<rect x="692" y="518" width="1" height="16" fill="#c0c0c0"/>
<rect x="700" y="507" width="1" height="27" fill="#c0c0c0"/>
<rect x="708" y="499" width="1" height="35" fill="#c0c0c0"/>
<rect x="716" y="487" width="1" height="47" fill="#c0c0c0"/>
<rect x="724" y="475" width="1" height="59" fill="#c0c0c0"/>
<rect x="732" y="470" width="1" height="64" fill="#c0c0c0"/>
<rect x="740" y="464" width="1" height="70" fill="#c0c0c0"/>
<rect x="748" y="460" width="1" height="74" fill="#c0c0c0"/>
<rect x="756" y="456" width="1" height="78" fill="#c0c0c0"/>
<rect x="764" y="454" width="1" height="80" fill="#c0c0c0"/>
<rect x="772" y="445" width="1" height="89" fill="#c0c0c0"/>
<rect x="780" y="443" width="1" height="91" fill="#c0c0c0"/>
<rect x="788" y="440" width="1" height="94" fill="#c0c0c0"/>
<rect x="796" y="437" width="1" height="97" fill="#c0c0c0"/>
<rect x="804" y="435" width="1" height="99" fill="#c0c0c0"/>
<rect x="812" y="436" width="1" height="98" fill="#c0c0c0"/>
<rect x="820" y="440" width="1" height="94" fill="#c0c0c0"/>
<rect x="828" y="442" width="1" height="92" fill="#c0c0c0"/>
<rect x="836" y="440" width="1" height="94" fill="#c0c0c0"/>
<rect x="844" y="439" width="1" height="95" fill="#c0c0c0"/>
<rect x="852" y="438" width="1" height="96" fill="#c0c0c0"/>
<rect x="860" y="438" width="1" height="96" fill="#c0c0c0"/>
<rect x="868" y="437" width="1" height="97" fill="#c0c0c0"/>
<rect x="876" y="438" width="1" height="96" fill="#c0c0c0"/>
<rect x="884" y="438" width="1" height="96" fill="#c0c0c0"/>
<rect x="892" y="437" width="1" height="97" fill="#c0c0c0"/>
<rect x="900" y="436" width="1" height="98" fill="#c0c0c0"/>
<rect x="908" y="436" width="1" height="98" fill="#c0c0c0"/>
<rect x="916" y="436" width="1" height="98" fill="#c0c0c0"/>
<rect x="924" y="435" width="1" height="99" fill="#c0c0c0"/>
<rect x="932" y="434" width="1" height="100" fill="#c0c0c0"/>
<rect x="940" y="434" width="1" height="100" fill="#c0c0c0"/>
<rect x="948" y="432" width="1" height="102" fill="#c0c0c0"/>
<rect x="956" y="431" width="1" height="103" fill="#c0c0c0"/>
<rect x="964" y="436" width="1" height="98" fill="#c0c0c0"/>
<rect x="972" y="441" width="1" height="93" fill="#c0c0c0"/>
<rect x="980" y="442" width="1" height="92" fill="#c0c0c0"/>
<rect x="988" y="444" width="1" height="90" fill="#c0c0c0"/>
<rect x="996" y="447" width="1" height="87" fill="#c0c0c0"/>
<rect x="1004" y="451" width="1" height="83" fill="#c0c0c0"/>
<rect x="1012" y="451" width="1" height="83" fill="#c0c0c0"/>
<rect x="1020" y="452" width="1" height="82" fill="#c0c0c0"/>
<rect x="1028" y="453" width="1" height="81" fill="#c0c0c0"/>
<rect x="1036" y="459" width="1" height="75" fill="#c0c0c0"/>
<rect x="1044" y="464" width="1" height="70" fill="#c0c0c0"/>
<rect x="1052" y="469" width="1" height="65" fill="#c0c0c0"/>
<rect x="1060" y="474" width="1" height="60" fill="#c0c0c0"/>
<rect x="1068" y="477" width="1" height="57" fill="#c0c0c0"/>
<rect x="1076" y="485" width="1" height="49" fill="#c0c0c0"/>
<rect x="1084" y="491" width="1" height="43" fill="#c0c0c0"/>
<rect x="1092" y="498" width="1" height="36" fill="#c0c0c0"/>
<rect x="1100" y="504" width="1" height="30" fill="#c0c0c0"/>
<rect x="1108" y="510" width="1" height="24" fill="#c0c0c0"/>
<rect x="1116" y="507" width="1" height="27" fill="#c0c0c0"/>
<rect x="1124" y="496" width="1" height="38" fill="#c0c0c0"/>
<rect x="1132" y="487" width="1" height="47" fill="#c0c0c0"/>
<rect x="1140" y="474" width="1" height="60" fill="#c0c0c0"/>
<rect x="1148" y="460" width="1" height="74" fill="#c0c0c0"/>
<rect x="1156" y="452" width="1" height="82" fill="#c0c0c0"/>
<rect x="1164" y="445" width="1" height="89" fill="#c0c0c0"/>
<rect x="1172" y="444" width="1" height="90" fill="#c0c0c0"/>
<rect x="1180" y="447" width="1" height="87" fill="#c0c0c0"/>
<rect x="1188" y="450" width="1" height="84" fill="#c0c0c0"/>
<rect x="4" y="451" width="3" height="1" fill="#ff0000"/>
<rect x="10" y="450" width="1" height="1" fill="#ff0000"/>
<rect x="11" y="449" width="4" height="1" fill="#ff0000"/>
<rect x="18" y="448" width="5" height="1" fill="#ff0000"/>
<rect x="26" y="447" width="5" height="1" fill="#ff0000"/>
<rect x="34" y="446" width="5" height="1" fill="#ff0000"/>
<rect x="42" y="447" width="4" height="1" fill="#ff0000"/>
<rect x="46" y="448" width="1" height="1" fill="#ff0000"/>
<rect x="50" y="449" width="4" height="1" fill="#ff0000"/>
<rect x="54" y="450" width="1" height="1" fill="#ff0000"/>
<rect x="58" y="451" width="3" height="1" fill="#ff0000"/>
<rect x="61" y="452" width="2" height="1" fill="#ff0000"/>
<rect x="66" y="454" width="1" height="1" fill="#ff0000"/>
<rect x="67" y="455" width="2" height="1" fill="#ff0000"/>
<rect x="69" y="456" width="2" height="1" fill="#ff0000"/>
<rect x="74" y="459" width="2" height="1" fill="#ff0000"/>
<rect x="76" y="460" width="2" height="1" fill="#ff0000"/>
<rect x="78" y="461" width="1" height="1" fill="#ff0000"/>
<rect x="82" y="463" width="2" height="1" fill="#ff0000"/>
<rect x="84" y="464" width="2" height="1" fill="#ff0000"/>
<rect x="86" y="465" width="1" height="1" fill="#ff0000"/>
<rect x="90" y="467" width="2" height="1" fill="#ff0000"/>
<rect x="92" y="468" width="2" height="1" fill="#ff0000"/>
<rect x="94" y="469" width="1" height="1" fill="#ff0000"/>
<rect x="98" y="471" width="2" height="1" fill="#ff0000"/>
<rect x="100" y="472" width="2" height="1" fill="#ff0000"/>
<rect x="102" y="473" width="1" height="1" fill="#ff0000"/>
<rect x="106" y="474" width="1" height="1" fill="#ff0000"/>
<rect x="107" y="475" width="2" height="1" fill="#ff0000"/>
<rect x="109" y="476" width="2" height="1" fill="#ff0000"/>
<rect x="114" y="477" width="1" height="1" fill="#ff0000"/>
<rect x="115" y="478" width="2" height="1" fill="#ff0000"/>
<rect x="117" y="479" width="2" height="1" fill="#ff0000"/>
<rect x="122" y="481" width="2" height="1" fill="#ff0000"/>
<rect x="124" y="482" width="2" height="1" fill="#ff0000"/>
<rect x="126" y="483" width="1" height="1" fill="#ff0000"/>
<rect x="130" y="485" width="2" height="1" fill="#ff0000"/>
<rect x="132" y="486" width="1" height="1" fill="#ff0000"/>
<rect x="133" y="487" width="2" height="1" fill="#ff0000"/>
<rect x="138" y="489" width="1" height="1" fill="#ff0000"/>
<rect x="139" y="490" width="1" height="1" fill="#ff0000"/>
<rect x="140" y="491" width="2" height="1" fill="#ff0000"/>
<rect x="142" y="492" width="1" height="1" fill="#ff0000"/>
<rect x="146" y="494" width="1" height="1" fill="#ff0000"/>
<rect x="147" y="495" width="2" height="1" fill="#ff0000"/>
<rect x="149" y="496" width="1" height="1" fill="#ff0000"/>
<rect x="150" y="497" width="1" height="1" fill="#ff0000"/>
<rect x="154" y="499" width="1" height="1" fill="#ff0000"/>
<rect x="155" y="500" width="2" height="1" fill="#ff0000"/>
<rect x="157" y="501" width="1" height="1" fill="#ff0000"/>
<rect x="158" y="502" width="1" height="1" fill="#ff0000"/>
<rect x="162" y="505" width="1" height="1" fill="#ff0000"/>
<rect x="163" y="506" width="1" height="1" fill="#ff0000"/>
<rect x="164" y="507" width="1" height="1" fill="#ff0000"/>
<rect x="165" y="508" width="1" height="1" fill="#ff0000"/>
<rect x="166" y="509" width="1" height="1" fill="#ff0000"/>
<rect x="170" y="512" width="1" height="1" fill="#ff0000"/>
<rect x="171" y="513" width="1" height="1" fill="#ff0000"/>
<rect x="172" y="514" width="2" height="1" fill="#ff0000"/>
<rect x="174" y="515" width="1" height="1" fill="#ff0000"/>
<rect x="178" y="518" width="1" height="1" fill="#ff0000"/>
<rect x="179" y="519" width="1" height="1" fill="#ff0000"/>
<rect x="180" y="520" width="2" height="1" fill="#ff0000"/>
<rect x="182" y="521" width="1" height="1" fill="#ff0000"/>
<rect x="186" y="524" width="1" height="1" fill="#ff0000"/>
<rect x="187" y="525" width="1" height="1" fill="#ff0000"/>
<rect x="188" y="526" width="2" height="1" fill="#ff0000"/>
<rect x="190" y="527" width="1" height="1" fill="#ff0000"/>
<rect x="194" y="529" width="2" height="1" fill="#ff0000"/>
<rect x="196" y="530" width="2" height="1" fill="#ff0000"/>
<rect x="198" y="531" width="1" height="1" fill="#ff0000"/>
<rect x="202" y="533" width="2" height="1" fill="#ff0000"/>
<rect x="204" y="534" width="3" height="1" fill="#ff0000"/>
<rect x="210" y="535" width="4" height="1" fill="#ff0000"/>
<rect x="214" y="536" width="1" height="1" fill="#ff0000"/>
<rect x="218" y="536" width="1" height="1" fill="#ff0000"/>
<rect x="219" y="537" width="4" height="1" fill="#ff0000"/>
<rect x="226" y="537" width="5" height="1" fill="#ff0000"/>
<rect x="234" y="537" width="3" height="1" fill="#ff0000"/>
<rect x="237" y="536" width="2" height="1" fill="#ff0000"/>
<rect x="242" y="535" width="2" height="1" fill="#ff0000"/>
<rect x="244" y="534" width="3" height="1" fill="#ff0000"/>
<rect x="250" y="533" width="1" height="1" fill="#ff0000"/>
<rect x="251" y="532" width="3" height="1" fill="#ff0000"/>
<rect x="254" y="531" width="1" height="1" fill="#ff0000"/>
<rect x="258" y="530" width="1" height="1" fill="#ff0000"/>
<rect x="259" y="529" width="2" height="1" fill="#ff0000"/>
<rect x="261" y="528" width="2" height="1" fill="#ff0000"/>
<rect x="266" y="526" width="1" height="1" fill="#ff0000"/>
<rect x="267" y="525" width="3" height="1" fill="#ff0000"/>
<rect x="270" y="524" width="1" height="1" fill="#ff0000"/>
<rect x="274" y="522" width="2" height="1" fill="#ff0000"/>
<rect x="276" y="521" width="2" height="1" fill="#ff0000"/>
<rect x="278" y="520" width="1" height="1" fill="#ff0000"/>
<rect x="282" y="519" width="1" height="1" fill="#ff0000"/>
<rect x="283" y="518" width="2" height="1" fill="#ff0000"/>
<rect x="285" y="517" width="2" height="1" fill="#ff0000"/>
<rect x="290" y="516" width="1" height="1" fill="#ff0000"/>
<rect x="291" y="515" width="3" height="1" fill="#ff0000"/>
<rect x="294" y="514" width="1" height="1" fill="#ff0000"/>
<rect x="298" y="513" width="2" height="1" fill="#ff0000"/>
<rect x="300" y="512" width="3" height="1" fill="#ff0000"/>
<rect x="306" y="512" width="3" height="1" fill="#ff0000"/>
<rect x="309" y="511" width="2" height="1" fill="#ff0000"/>
<rect x="314" y="511" width="5" height="1" fill="#ff0000"/>
<rect x="322" y="511" width="5" height="1" fill="#ff0000"/>
<rect x="330" y="511" width="4" height="1" fill="#ff0000"/>
<rect x="334" y="512" width="1" height="1" fill="#ff0000"/>
<rect x="338" y="512" width="5" height="1" fill="#ff0000"/>
<rect x="346" y="513" width="1" height="1" fill="#ff0000"/>
<rect x="347" y="514" width="3" height="1" fill="#ff0000"/>
<rect x="350" y="515" width="1" height="1" fill="#ff0000"/>
<rect x="354" y="516" width="2" height="1" fill="#ff0000"/>
<rect x="356" y="517" width="3" height="1" fill="#ff0000"/>
<rect x="362" y="519" width="3" height="1" fill="#ff0000"/>
<rect x="365" y="520" width="2" height="1" fill="#ff0000"/>
<rect x="370" y="522" width="2" height="1" fill="#ff0000"/>
<rect x="372" y="523" width="2" height="1" fill="#ff0000"/>
<rect x="374" y="524" width="1" height="1" fill="#ff0000"/>
<rect x="378" y="525" width="1" height="1" fill="#ff0000"/>
<rect x="379" y="526" width="2" height="1" fill="#ff0000"/>
<rect x="381" y="527" width="2" height="1" fill="#ff0000"/>
<rect x="386" y="529" width="1" height="1" fill="#ff0000"/>
<rect x="387" y="530" width="2" height="1" fill="#ff0000"/>
<rect x="389" y="531" width="2" height="1" fill="#ff0000"/>
<rect x="394" y="533" width="1" height="1" fill="#ff0000"/>
<rect x="395" y="534" width="2" height="1" fill="#ff0000"/>
<rect x="397" y="535" width="2" height="1" fill="#ff0000"/>
<rect x="402" y="537" width="1" height="1" fill="#ff0000"/>
<rect x="403" y="538" width="2" height="1" fill="#ff0000"/>
<rect x="405" y="539" width="2" height="1" fill="#ff0000"/>
<rect x="410" y="541" width="1" height="1" fill="#ff0000"/>
<rect x="411" y="542" width="2" height="1" fill="#ff0000"/>
<rect x="413" y="543" width="2" height="1" fill="#ff0000"/>
<rect x="418" y="545" width="2" height="1" fill="#ff0000"/>
<rect x="420" y="546" width="3" height="1" fill="#ff0000"/>
<rect x="426" y="547" width="1" height="1" fill="#ff0000"/>
<rect x="427" y="548" width="4" height="1" fill="#ff0000"/>
<rect x="434" y="548" width="5" height="1" fill="#ff0000"/>
<rect x="442" y="548" width="5" height="1" fill="#ff0000"/>
<rect x="450" y="547" width="4" height="1" fill="#ff0000"/>
<rect x="454" y="546" width="1" height="1" fill="#ff0000"/>
<rect x="458" y="546" width="4" height="1" fill="#ff0000"/>
<rect x="462" y="545" width="1" height="1" fill="#ff0000"/>
<rect x="466" y="545" width="3" height="1" fill="#ff0000"/>
<rect x="469" y="544" width="2" height="1" fill="#ff0000"/>
<rect x="474" y="543" width="3" height="1" fill="#ff0000"/>
<rect x="477" y="542" width="2" height="1" fill="#ff0000"/>
<rect x="482" y="541" width="3" height="1" fill="#ff0000"/>
<rect x="485" y="540" width="2" height="1" fill="#ff0000"/>
<rect x="490" y="540" width="1" height="1" fill="#ff0000"/>
<rect x="491" y="539" width="4" height="1" fill="#ff0000"/>
<rect x="498" y="538" width="4" height="1" fill="#ff0000"/>
<rect x="502" y="537" width="1" height="1" fill="#ff0000"/>
<rect x="506" y="536" width="5" height="1" fill="#ff0000"/>
<rect x="514" y="535" width="1" height="1" fill="#ff0000"/>
<rect x="515" y="534" width="4" height="1" fill="#ff0000"/>
<rect x="522" y="533" width="5" height="1" fill="#ff0000"/>
<rect x="530" y="532" width="5" height="1" fill="#ff0000"/>
<rect x="538" y="531" width="5" height="1" fill="#ff0000"/>
<rect x="546" y="531" width="5" height="1" fill="#ff0000"/>
<rect x="554" y="530" width="5" height="1" fill="#ff0000"/>
<rect x="562" y="530" width="5" height="1" fill="#ff0000"/>
<rect x="570" y="530" width="5" height="1" fill="#ff0000"/>
<rect x="578" y="531" width="5" height="1" fill="#ff0000"/>
<rect x="586" y="532" width="5" height="1" fill="#ff0000"/>
<rect x="594" y="533" width="3" height="1" fill="#ff0000"/>
<rect x="597" y="534" width="2" height="1" fill="#ff0000"/>
<rect x="602" y="535" width="4" height="1" fill="#ff0000"/>
<rect x="606" y="536" width="1" height="1" fill="#ff0000"/>
<rect x="610" y="536" width="2" height="1" fill="#ff0000"/>
<rect x="612" y="537" width="3" height="1" fill="#ff0000"/>
<rect x="618" y="538" width="5" height="1" fill="#ff0000"/>
<rect x="626" y="539" width="4" height="1" fill="#ff0000"/>
<rect x="630" y="540" width="1" height="1" fill="#ff0000"/>
<rect x="634" y="540" width="4" height="1" fill="#ff0000"/>
<rect x="638" y="541" width="1" height="1" fill="#ff0000"/>
<rect x="642" y="541" width="5" height="1" fill="#ff0000"/>
<rect x="650" y="542" width="5" height="1" fill="#ff0000"/>
<rect x="658" y="542" width="5" height="1" fill="#ff0000"/>
<rect x="666" y="542" width="3" height="1" fill="#ff0000"/>
<rect x="669" y="541" width="2" height="1" fill="#ff0000"/>
<rect x="674" y="541" width="2" height="1" fill="#ff0000"/>
<rect x="676" y="540" width="3" height="1" fill="#ff0000"/>
<rect x="682" y="540" width="1" height="1" fill="#ff0000"/>
<rect x="683" y="539" width="3" height="1" fill="#ff0000"/>
<rect x="686" y="538" width="1" height="1" fill="#ff0000"/>
<rect x="690" y="537" width="1" height="1" fill="#ff0000"/>
<rect x="691" y="536" width="3" height="1" fill="#ff0000"/>
<rect x="694" y="535" width="1" height="1" fill="#ff0000"/>
<rect x="698" y="533" width="2" height="1" fill="#ff0000"/>
<rect x="700" y="532" width="2" height="1" fill="#ff0000"/>
<rect x="702" y="531" width="1" height="1" fill="#ff0000"/>
<rect x="706" y="529" width="2" height="1" fill="#ff0000"/>
<rect x="708" y="528" width="1" height="1" fill="#ff0000"/>
<rect x="709" y="527" width="1" height="1" fill="#ff0000"/>
<rect x="710" y="526" width="1" height="1" fill="#ff0000"/>
<rect x="714" y="523" width="1" height="1" fill="#ff0000"/>
<rect x="715" y="522" width="1" height="1" fill="#ff0000"/>
<rect x="716" y="521" width="1" height="1" fill="#ff0000"/>
<rect x="717" y="520" width="1" height="1" fill="#ff0000"/>
<rect x="718" y="519" width="1" height="1" fill="#ff0000"/>
<rect x="722" y="515" width="1" height="1" fill="#ff0000"/>
<rect x="723" y="514" width="2" height="1" fill="#ff0000"/>
<rect x="725" y="512" width="1" height="1" fill="#ff0000"/>
<rect x="726" y="511" width="1" height="1" fill="#ff0000"/>
<rect x="730" y="507" width="1" height="1" fill="#ff0000"/>
<rect x="731" y="506" width="1" height="1" fill="#ff0000"/>
<rect x="732" y="505" width="1" height="1" fill="#ff0000"/>
<rect x="733" y="504" width="1" height="1" fill="#ff0000"/>
<rect x="734" y="503" width="1" height="1" fill="#ff0000"/>
<rect x="738" y="498" width="1" height="1" fill="#ff0000"/>
<rect x="739" y="497" width="1" height="1" fill="#ff0000"/>
<rect x="740" y="496" width="1" height="1" fill="#ff0000"/>
<rect x="741" y="495" width="1" height="1" fill="#ff0000"/>
<rect x="742" y="494" width="1" height="1" fill="#ff0000"/>
<rect x="746" y="490" width="1" height="1" fill="#ff0000"/>
<rect x="747" y="489" width="1" height="1" fill="#ff0000"/>
<rect x="748" y="488" width="1" height="1" fill="#ff0000"/>
<rect x="749" y="487" width="1" height="1" fill="#ff0000"/>
<rect x="750" y="486" width="1" height="1" fill="#ff0000"/>
<rect x="754" y="482" width="1" height="1" fill="#ff0000"/>
<rect x="755" y="481" width="1" height="1" fill="#ff0000"/>
<rect x="756" y="480" width="1" height="1" fill="#ff0000"/>
<rect x="757" y="479" width="1" height="1" fill="#ff0000"/>
<rect x="758" y="478" width="1" height="1" fill="#ff0000"/>
<rect x="762" y="475" width="1" height="1" fill="#ff0000"/>
<rect x="763" y="474" width="1" height="1" fill="#ff0000"/>
<rect x="764" y="473" width="2" height="1" fill="#ff0000"/>
<rect x="766" y="472" width="1" height="1" fill="#ff0000"/>
<rect x="770" y="469" width="1" height="1" fill="#ff0000"/>
<rect x="771" y="468" width="1" height="1" fill="#ff0000"/>
<rect x="772" y="467" width="1" height="1" fill="#ff0000"/>
<rect x="773" y="466" width="1" height="1" fill="#ff0000"/>
<rect x="774" y="465" width="1" height="1" fill="#ff0000"/>
<rect x="778" y="462" width="1" height="1" fill="#ff0000"/>
<rect x="779" y="461" width="1" height="1" fill="#ff0000"/>
<rect x="780" y="460" width="1" height="1" fill="#ff0000"/>
<rect x="781" y="459" width="2" height="1" fill="#ff0000"/>
<rect x="786" y="456" width="1" height="1" fill="#ff0000"/>
<rect x="787" y="455" width="2" height="1" fill="#ff0000"/>
<rect x="789" y="454" width="2" height="1" fill="#ff0000"/>
<rect x="794" y="452" width="1" height="1" fill="#ff0000"/>
<rect x="795" y="451" width="2" height="1" fill="#ff0000"/>
<rect x="797" y="450" width="2" height="1" fill="#ff0000"/>
<rect x="802" y="448" width="1" height="1" fill="#ff0000"/>
<rect x="803" y="447" width="3" height="1" fill="#ff0000"/>
<rect x="806" y="446" width="1" height="1" fill="#ff0000"/>
<rect x="810" y="445" width="2" height="1" fill="#ff0000"/>
<rect x="812" y="444" width="3" height="1" fill="#ff0000"/>
<rect x="818" y="442" width="2" height="1" fill="#ff0000"/>
<rect x="820" y="441" width="3" height="1" fill="#ff0000"/>
<rect x="826" y="441" width="1" height="1" fill="#ff0000"/>
<rect x="827" y="440" width="4" height="1" fill="#ff0000"/>
<rect x="834" y="439" width="5" height="1" fill="#ff0000"/>
<rect x="842" y="439" width="2" height="1" fill="#ff0000"/>
<rect x="844" y="438" width="3" height="1" fill="#ff0000"/>
<rect x="850" y="438" width="5" height="1" fill="#ff0000"/>
<rect x="858" y="438" width="1" height="1" fill="#ff0000"/>
<rect x="859" y="437" width="4" height="1" fill="#ff0000"/>
<rect x="866" y="437" width="5" height="1" fill="#ff0000"/>
<rect x="874" y="437" width="4" height="1" fill="#ff0000"/>
<rect x="878" y="438" width="1" height="1" fill="#ff0000"/>
<rect x="882" y="438" width="5" height="1" fill="#ff0000"/>
<rect x="890" y="437" width="5" height="1" fill="#ff0000"/>
<rect x="898" y="437" width="5" height="1" fill="#ff0000"/>
<rect x="906" y="437" width="1" height="1" fill="#ff0000"/>
<rect x="907" y="436" width="4" height="1" fill="#ff0000"/>
<rect x="914" y="436" width="5" height="1" fill="#ff0000"/>
<rect x="922" y="436" width="3" height="1" fill="#ff0000"/>
<rect x="925" y="435" width="2" height="1" fill="#ff0000"/>
<rect x="930" y="435" width="5" height="1" fill="#ff0000"/>
<rect x="938" y="435" width="2" height="1" fill="#ff0000"/>
<rect x="940" y="434" width="3" height="1" fill="#ff0000"/>
<rect x="946" y="434" width="5" height="1" fill="#ff0000"/>
<rect x="954" y="434" width="1" height="1" fill="#ff0000"/>
<rect x="955" y="433" width="4" height="1" fill="#ff0000"/>
<rect x="962" y="433" width="5" height="1" fill="#ff0000"/>
<rect x="970" y="434" width="5" height="1" fill="#ff0000"/>
<rect x="978" y="434" width="2" height="1" fill="#ff0000"/>
<rect x="980" y="435" width="3" height="1" fill="#ff0000"/>
<rect x="986" y="435" width="1" height="1" fill="#ff0000"/>
<rect x="987" y="436" width="4" height="1" fill="#ff0000"/>
<rect x="994" y="437" width="5" height="1" fill="#ff0000"/>
<rect x="1002" y="438" width="3" height="1" fill="#ff0000"/>
<rect x="1005" y="439" width="2" height="1" fill="#ff0000"/>
<rect x="1010" y="440" width="4" height="1" fill="#ff0000"/>
<rect x="1014" y="441" width="1" height="1" fill="#ff0000"/>
<rect x="1018" y="442" width="2" height="1" fill="#ff0000"/>
<rect x="1020" y="443" width="3" height="1" fill="#ff0000"/>
<rect x="1026" y="445" width="3" height="1" fill="#ff0000"/>
<rect x="1029" y="446" width="2" height="1" fill="#ff0000"/>
<rect x="1034" y="447" width="1" height="1" fill="#ff0000"/>
<rect x="1035" y="448" width="3" height="1" fill="#ff0000"/>
<rect x="1038" y="449" width="1" height="1" fill="#ff0000"/>
<rect x="1042" y="450" width="2" height="1" fill="#ff0000"/>
<rect x="1044" y="451" width="2" height="1" fill="#ff0000"/>
<rect x="1046" y="452" width="1" height="1" fill="#ff0000"/>
<rect x="1050" y="453" width="2" height="1" fill="#ff0000"/>
<rect x="1052" y="454" width="3" height="1" fill="#ff0000"/>
<rect x="1058" y="456" width="2" height="1" fill="#ff0000"/>
<rect x="1060" y="457" width="2" height="1" fill="#ff0000"/>
<rect x="1062" y="458" width="1" height="1" fill="#ff0000"/>
<rect x="1066" y="459" width="1" height="1" fill="#ff0000"/>
<rect x="1067" y="460" width="3" height="1" fill="#ff0000"/>
<rect x="1070" y="461" width="1" height="1" fill="#ff0000"/>
<rect x="1074" y="462" width="1" height="1" fill="#ff0000"/>
<rect x="1075" y="463" width="2" height="1" fill="#ff0000"/>
<rect x="1077" y="464" width="2" height="1" fill="#ff0000"/>
<rect x="1082" y="467" width="2" height="1" fill="#ff0000"/>
<rect x="1084" y="468" width="1" height="1" fill="#ff0000"/>
<rect x="1085" y="469" width="2" height="1" fill="#ff0000"/>
<rect x="1090" y="472" width="2" height="1" fill="#ff0000"/>
<rect x="1092" y="473" width="1" height="1" fill="#ff0000"/>
<rect x="1093" y="474" width="2" height="1" fill="#ff0000"/>
<rect x="1098" y="477" width="1" height="1" fill="#ff0000"/>
<rect x="1099" y="478" width="2" height="1" fill="#ff0000"/>
<rect x="1101" y="479" width="1" height="1" fill="#ff0000"/>
<rect x="1102" y="480" width="1" height="1" fill="#ff0000"/>
<rect x="1106" y="483" width="2" height="1" fill="#ff0000"/>
<rect x="1108" y="484" width="1" height="1" fill="#ff0000"/>
<rect x="1109" y="485" width="2" height="1" fill="#ff0000"/>
<rect x="1114" y="487" width="2" height="1" fill="#ff0000"/>
<rect x="1116" y="488" width="2" height="1" fill="#ff0000"/>
<rect x="1118" y="489" width="1" height="1" fill="#ff0000"/>
<rect x="1122" y="491" width="2" height="1" fill="#ff0000"/>
<rect x="1124" y="492" width="3" height="1" fill="#ff0000"/>
<rect x="1130" y="493" width="1" height="1" fill="#ff0000"/>
<rect x="1131" y="494" width="4" height="1" fill="#ff0000"/>
<rect x="1138" y="494" width="3" height="1" fill="#ff0000"/>
<rect x="1141" y="493" width="2" height="1" fill="#ff0000"/>
<rect x="1146" y="491" width="2" height="1" fill="#ff0000"/>
<rect x="1148" y="490" width="2" height="1" fill="#ff0000"/>
<rect x="1150" y="489" width="1" height="1" fill="#ff0000"/>
<rect x="1154" y="487" width="1" height="1" fill="#ff0000"/>
<rect x="1155" y="486" width="2" height="1" fill="#ff0000"/>
<rect x="1157" y="485" width="1" height="1" fill="#ff0000"/>
<rect x="1158" y="484" width="1" height="1" fill="#ff0000"/>
<rect x="1162" y="482" width="2" height="1" fill="#ff0000"/>
<rect x="1164" y="481" width="1" height="1" fill="#ff0000"/>
<rect x="1165" y="480" width="1" height="1" fill="#ff0000"/>
<rect x="1166" y="479" width="1" height="1" fill="#ff0000"/>
<rect x="1170" y="476" width="1" height="1" fill="#ff0000"/>
<rect x="1171" y="475" width="1" height="1" fill="#ff0000"/>
<rect x="1172" y="474" width="1" height="1" fill="#ff0000"/>
<rect x="1173" y="473" width="1" height="1" fill="#ff0000"/>
<rect x="1174" y="472" width="1" height="1" fill="#ff0000"/>
<rect x="1178" y="469" width="1" height="1" fill="#ff0000"/>
<rect x="1179" y="468" width="1" height="1" fill="#ff0000"/>
<rect x="1180" y="467" width="1" height="1" fill="#ff0000"/>
<rect x="1181" y="466" width="2" height="1" fill="#ff0000"/>
<rect x="1186" y="463" width="1" height="1" fill="#ff0000"/>
<rect x="1187" y="462" width="1" height="1" fill="#ff0000"/>
<rect x="1188" y="461" width="1" height="1" fill="#ff0000"/>
<text x="7.6" y="435" fill="#000" stroke="#000" stroke-width="0.3" font-size="10.0" text-anchor="start" textLength="128.5" lengthAdjust="spacingAndGlyphs">MACD(12,26,9) 0.7275 0.6234</text>
<text x="1212.7" y="433" fill="#000" stroke="#000" stroke-width="0.3" font-size="10.0" text-anchor="start" textLength="28.2" lengthAdjust="spacingAndGlyphs">0.9434</text>
<text x="1212.7" y="537" fill="#000" stroke="#000" stroke-width="0.3" font-size="10.0" text-anchor="start" textLength="17.5" lengthAdjust="spacingAndGlyphs">0.00</text>
<text x="1212.9" y="556" fill="#000" stroke="#000" stroke-width="0.3" font-size="10.0" text-anchor="start" textLength="30.3" lengthAdjust="spacingAndGlyphs">-0.2213</text>
<rect x="1210" y="533" width="1" height="1" fill="#000"/>
<rect x="1210" y="424" width="1" height="1" fill="#000"/>
<rect x="1210" y="558" width="1" height="1" fill="#000"/>
<rect x="1210" y="563" width="1" height="1" fill="#000"/>
<rect x="1209" y="421" width="1" height="1" fill="#fff"/>
<rect x="1209" y="560" width="1" height="1" fill="#fff"/>
<line x1="4" y1="600.5" x2="1209" y2="600.5" stroke="#c0c0c0" stroke-width="1" stroke-dasharray="3,3"/>
<line x1="4" y1="650.5" x2="1209" y2="650.5" stroke="#c0c0c0" stroke-width="1" stroke-dasharray="3,3"/>
<polyline points="4.5,586.2 12.5,595.4 20.5,600.3 28.5,602.3 36.5,611.3 44.5,616.4 52.5,615.4 60.5,609.2 68.5,618.2 76.5,621.5 84.5,607.4 92.5,605.4 100.5,610.0 108.5,617.7 116.5,622.0 124.5,633.0 132.5,629.4 140.5,632.3 148.5,632.3 156.5,635.3 164.5,631.2 172.5,629.4 180.5,628.7 188.5,631.2 196.5,627.7 204.5,628.7 212.5,624.3 220.5,620.2 228.5,614.4 236.5,616.4 244.5,612.8 252.5,609.5 260.5,608.2 268.5,605.4 276.5,612.8 284.5,618.2 292.5,622.5 300.5,619.5 308.5,619.5 316.5,623.3 324.5,617.7 332.5,621.0 340.5,622.5 348.5,636.1 356.5,637.4 364.5,646.3 372.5,630.5 380.5,635.1 388.5,636.4 396.5,632.3 404.5,634.3 412.5,625.1 420.5,628.7 428.5,633.0 436.5,623.3 444.5,620.2 452.5,626.1 460.5,628.4 468.5,617.9 476.5,626.4 484.5,626.4 492.5,622.5 500.5,621.3 508.5,619.5 516.5,626.4 524.5,617.2 532.5,627.4 540.5,629.4 548.5,626.4 556.5,627.4 564.5,625.4 572.5,623.3 580.5,631.2 588.5,633.3 596.5,633.3 604.5,635.3 612.5,624.1 620.5,622.3 628.5,632.0 636.5,632.0 644.5,636.4 652.5,626.4 660.5,623.3 668.5,621.3 676.5,622.3 684.5,606.2 692.5,607.4 700.5,601.0 708.5,603.6 716.5,595.9 724.5,593.4 732.5,602.3 740.5,600.5 748.5,599.3 756.5,597.2 764.5,599.8 772.5,591.3 780.5,601.3 788.5,599.3 796.5,597.2 804.5,598.5 812.5,598.5 820.5,610.3 828.5,602.3 836.5,600.5 844.5,599.5 852.5,599.5 860.5,597.2 868.5,595.2 876.5,597.2 884.5,595.9 892.5,592.4 900.5,592.1 908.5,590.3 916.5,592.4 924.5,590.3 932.5,588.3 940.5,587.2 948.5,584.4 956.5,584.4 964.5,602.3 972.5,602.3 980.5,596.2 988.5,596.2 996.5,600.3 1004.5,600.3 1012.5,595.4 1020.5,595.4 1028.5,594.1 1036.5,607.2 1044.5,608.5 1052.5,607.2 1060.5,610.3 1068.5,607.2 1076.5,622.3 1084.5,621.3 1092.5,625.4 1100.5,625.4 1108.5,628.4 1116.5,610.3 1124.5,597.2 1132.5,595.9 1140.5,590.3 1148.5,587.2 1156.5,594.1 1164.5,592.4 1172.5,600.3 1180.5,606.4 1188.5,605.4" fill="none" stroke="#1e90ff" stroke-width="1"/>
<text x="7.6" y="574" fill="#000" stroke="#000" stroke-width="0.3" font-size="10.0" text-anchor="start" textLength="67.5" lengthAdjust="spacingAndGlyphs">RSI(14) 65.7123</text>
<text x="1213.7" y="572" fill="#000" stroke="#000" stroke-width="0.3" font-size="10.0" text-anchor="start" textLength="13.3" lengthAdjust="spacingAndGlyphs">100</text>
<text x="1211.9" y="604" fill="#000" stroke="#000" stroke-width="0.3" font-size="10.0" text-anchor="start" textLength="9.2" lengthAdjust="spacingAndGlyphs">70</text>
<text x="1211.9" y="654" fill="#000" stroke="#000" stroke-width="0.3" font-size="10.0" text-anchor="start" textLength="9.2" lengthAdjust="spacingAndGlyphs">30</text>
<text x="1212.9" y="685" fill="#000" stroke="#000" stroke-width="0.3" font-size="10.0" text-anchor="start" textLength="4.2" lengthAdjust="spacingAndGlyphs">0</text>
<rect x="4" y="689" width="1" height="3" fill="#000"/>
<text x="3.6" y="701" fill="#000" stroke="#000" stroke-width="0.3" font-size="10.0" text-anchor="start" textLength="48.6" lengthAdjust="spacingAndGlyphs">13 Jan 2021</text>
<rect x="68" y="689" width="1" height="3" fill="#000"/>
<text x="67.6" y="701" fill="#000" stroke="#000" stroke-width="0.3" font-size="10.0" text-anchor="start" textLength="51.7" lengthAdjust="spacingAndGlyphs">14 Jan 08:00</text>
<rect x="132" y="689" width="1" height="3" fill="#000"/>
<text x="131.6" y="701" fill="#000" stroke="#000" stroke-width="0.3" font-size="10.0" text-anchor="start" textLength="51.7" lengthAdjust="spacingAndGlyphs">15 Jan 16:00</text>
<rect x="196" y="689" width="1" height="3" fill="#000"/>
<text x="195.6" y="701" fill="#000" stroke="#000" stroke-width="0.3" font-size="10.0" text-anchor="start" textLength="51.7" lengthAdjust="spacingAndGlyphs">18 Jan 23:00</text>
<rect x="260" y="689" width="1" height="3" fill="#000"/>
<text x="259.6" y="701" fill="#000" stroke="#000" stroke-width="0.3" font-size="10.0" text-anchor="start" textLength="51.7" lengthAdjust="spacingAndGlyphs">20 Jan 04:00</text>
<rect x="324" y="689" width="1" height="3" fill="#000"/>
<text x="323.6" y="701" fill="#000" stroke="#000" stroke-width="0.3" font-size="10.0" text-anchor="start" textLength="51.7" lengthAdjust="spacingAndGlyphs">21 Jan 12:00</text>
<rect x="388" y="689" width="1" height="3" fill="#000"/>
<text x="387.6" y="701" fill="#000" stroke="#000" stroke-width="0.3" font-size="10.0" text-anchor="start" textLength="51.7" lengthAdjust="spacingAndGlyphs">22 Jan 20:00</text>
<rect x="452" y="689" width="1" height="3" fill="#000"/>
<text x="451.6" y="701" fill="#000" stroke="#000" stroke-width="0.3" font-size="10.0" text-anchor="start" textLength="51.7" lengthAdjust="spacingAndGlyphs">26 Jan 00:00</text>
<rect x="516" y="689" width="1" height="3" fill="#000"/>
<text x="515.6" y="701" fill="#000" stroke="#000" stroke-width="0.3" font-size="10.0" text-anchor="start" textLength="51.7" lengthAdjust="spacingAndGlyphs">27 Jan 08:00</text>
<rect x="580" y="689" width="1" height="3" fill="#000"/>
<text x="579.6" y="701" fill="#000" stroke="#000" stroke-width="0.3" font-size="10.0" text-anchor="start" textLength="51.7" lengthAdjust="spacingAndGlyphs">28 Jan 16:00</text>
<rect x="644" y="689" width="1" height="3" fill="#000"/>
<text x="643.6" y="701" fill="#000" stroke="#000" stroke-width="0.3" font-size="10.0" text-anchor="start" textLength="51.7" lengthAdjust="spacingAndGlyphs">31 Jan 23:00</text>
<rect x="708" y="689" width="1" height="3" fill="#000"/>
<text x="707.6" y="701" fill="#000" stroke="#000" stroke-width="0.3" font-size="10.0" text-anchor="start" textLength="49.4" lengthAdjust="spacingAndGlyphs">2 Feb 04:00</text>
<rect x="772" y="689" width="1" height="3" fill="#000"/>
<text x="771.6" y="701" fill="#000" stroke="#000" stroke-width="0.3" font-size="10.0" text-anchor="start" textLength="49.4" lengthAdjust="spacingAndGlyphs">3 Feb 12:00</text>
<rect x="836" y="689" width="1" height="3" fill="#000"/>
<text x="835.6" y="701" fill="#000" stroke="#000" stroke-width="0.3" font-size="10.0" text-anchor="start" textLength="49.4" lengthAdjust="spacingAndGlyphs">4 Feb 20:00</text>
<rect x="900" y="689" width="1" height="3" fill="#000"/>
<text x="899.6" y="701" fill="#000" stroke="#000" stroke-width="0.3" font-size="10.0" text-anchor="start" textLength="49.4" lengthAdjust="spacingAndGlyphs">8 Feb 00:00</text>
<rect x="964" y="689" width="1" height="3" fill="#000"/>
<text x="963.6" y="701" fill="#000" stroke="#000" stroke-width="0.3" font-size="10.0" text-anchor="start" textLength="49.4" lengthAdjust="spacingAndGlyphs">9 Feb 08:00</text>
<rect x="1028" y="689" width="1" height="3" fill="#000"/>
<text x="1027.6" y="701" fill="#000" stroke="#000" stroke-width="0.3" font-size="10.0" text-anchor="start" textLength="54.2" lengthAdjust="spacingAndGlyphs">10 Feb 16:00</text>
<rect x="1092" y="689" width="1" height="3" fill="#000"/>
<text x="1091.6" y="701" fill="#000" stroke="#000" stroke-width="0.3" font-size="10.0" text-anchor="start" textLength="54.2" lengthAdjust="spacingAndGlyphs">12 Feb 00:00</text>
<rect x="1156" y="689" width="1" height="3" fill="#000"/>
<text x="1155.6" y="701" fill="#000" stroke="#000" stroke-width="0.3" font-size="10.0" text-anchor="start" textLength="54.2" lengthAdjust="spacingAndGlyphs">15 Feb 04:00</text>
<text x="312.1" y="176.2" fill="#ff0000" stroke="#ff0000" stroke-width="0.2" font-size="38" text-anchor="start" textLength="233.5" lengthAdjust="spacingAndGlyphs" style="filter:none;font-family:'Liberation Sans','Noto Sans CJK SC',sans-serif;" shape-rendering="auto">多空转折点59</text>
</svg></body></html>
